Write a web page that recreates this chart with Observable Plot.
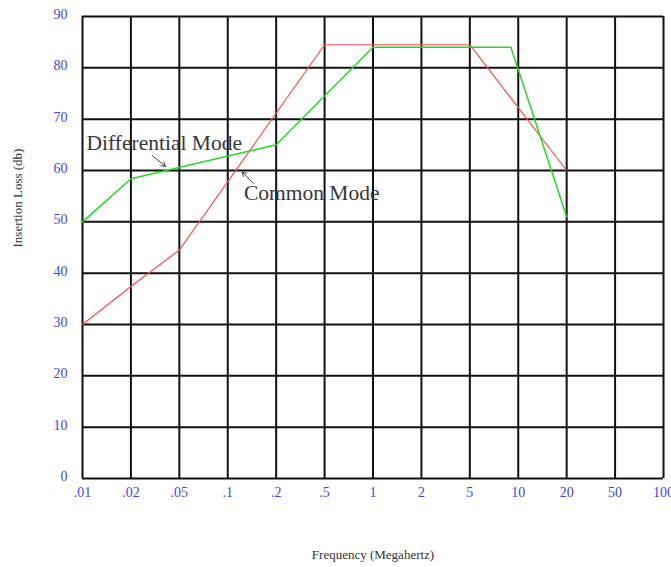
<!DOCTYPE html>
<html>
<head>
<meta charset="utf-8">
<script src="https://cdn.jsdelivr.net/npm/d3@7"></script>
<script src="https://cdn.jsdelivr.net/npm/@observablehq/plot@0.6"></script>
<style>
  html, body { margin: 0; padding: 0; background: #fff; }
  svg { font-family: "Liberation Serif", "Times New Roman", serif; }
</style>
</head>
<body>
<div id="chart"></div>
<script>
// Tick frequencies (MHz), equally spaced on the chart
const freqTicks = [0.01, 0.02, 0.05, 0.1, 0.2, 0.5, 1, 2, 5, 10, 20, 50, 100];
const freqTickLabels = [".01", ".02", ".05", ".1", ".2", ".5", "1", "2", "5", "10", "20", "50", "100"];
const lossTicks = [0, 10, 20, 30, 40, 50, 60, 70, 80, 90];

// Common Mode series
const commonFreq = [0.01, 0.02, 0.05, 0.5, 5, 20];
const commonLoss = [30, 37.4, 44.5, 84.5, 84.5, 60];

// Differential Mode series
const diffFreq = [0.01, 0.02, 0.2, 1, 9, 20];
const diffLoss = [50, 58.4, 65, 84, 84, 51];

// Annotations
const noteText = ["Differential Mode", "Common Mode"];
const noteFreq = [0.0106, 0.126];
const noteLoss = [65.3, 55.5];
const arrowFrom = [[0.0299, 62.9], [0.144, 57.5]];
const arrowTo = [[0.0385, 60.8], [0.123, 59.7]];

// position of a frequency along the equally spaced tick sequence
function pos(f) {
  for (let i = 0; i < freqTicks.length - 1; i++) {
    const a = freqTicks[i], b = freqTicks[i + 1];
    if (f <= b || i === freqTicks.length - 2) {
      return i + Math.log(f / a) / Math.log(b / a);
    }
  }
}

const common = commonFreq.map((f, i) => ({x: pos(f), y: commonLoss[i]}));
const diff = diffFreq.map((f, i) => ({x: pos(f), y: diffLoss[i]}));
const notes = noteText.map((t, i) => ({x: pos(noteFreq[i]), y: noteLoss[i], t}));
const arrows = arrowFrom.map((a, i) => ({x1: pos(a[0]), y1: a[1], x2: pos(arrowTo[i][0]), y2: arrowTo[i][1]}));
const tickIdx = freqTicks.map((f, i) => i);

const blue = "#4444f2";

const chart = Plot.plot({
  width: 671,
  height: 567,
  marginLeft: 82,
  marginRight: 8,
  marginTop: 16,
  marginBottom: 89,
  x: {type: "linear", domain: [0, freqTicks.length - 1]},
  y: {domain: [0, 90]},
  style: {fontFamily: "'Liberation Serif', 'Times New Roman', serif", background: "#fff"},
  marks: [
    Plot.ruleX(tickIdx, {x: d => d, stroke: "#111", strokeWidth: 2}),
    Plot.ruleY(lossTicks, {y: d => d, stroke: "#111", strokeWidth: 2}),
    Plot.line(common, {x: "x", y: "y", stroke: "#ff4d4d", strokeWidth: 1.2}),
    Plot.line(diff, {x: "x", y: "y", stroke: "#1fdc1f", strokeWidth: 1.5}),
    Plot.axisX(tickIdx, {
      tickSize: 0, tickPadding: 9, label: null,
      tickFormat: i => freqTickLabels[i], fill: blue, fontSize: 14
    }),
    Plot.axisY(lossTicks, {
      tickSize: 0, tickPadding: 15, label: null, dy: -2,
      fill: blue, fontSize: 14
    }),
    Plot.text(notes, {x: "x", y: "y", text: "t", textAnchor: "start", fontSize: 21.5, fill: "#383838"}),
    Plot.arrow(arrows, {x1: "x1", y1: "y1", x2: "x2", y2: "y2", stroke: "#444", strokeWidth: 1, headLength: 7}),
    Plot.text(["Frequency (Megahertz)"], {frameAnchor: "bottom", dy: 80, fontSize: 13, fill: "#333"}),
    Plot.text(["Insertion Loss (db)"], {frameAnchor: "left", dx: -65, rotate: -90, fontSize: 13, fill: "#333"})
  ]
});
document.getElementById("chart").appendChild(chart);
</script>
</body>
</html>
